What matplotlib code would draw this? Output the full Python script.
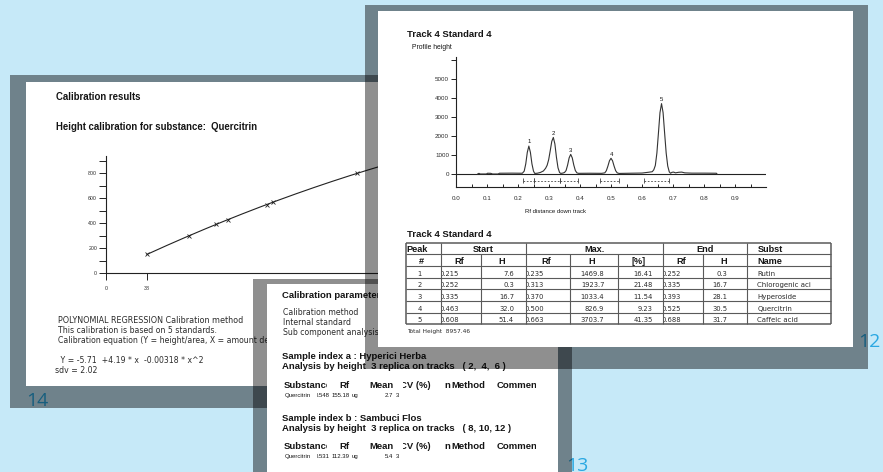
import numpy as np
import matplotlib
matplotlib.use("Agg")
import matplotlib.pyplot as plt
from matplotlib.patches import Rectangle
from matplotlib.transforms import Bbox
from matplotlib.ticker import FixedLocator

# ---------------- data ----------------
# calibration of Quercitrin (polynomial regression)
calib_coef = [-5.71, 4.19, -0.00318]
calib_sdv = 2.02
calib_standards = 5
calib_amounts = [38, 77, 102, 113, 149, 155, 233]
calib_heights = [150, 298, 389, 426, 548, 567, 798]
calib_yticks = [0, 200, 400, 600, 800]
calib_yminor = [100, 300, 500, 700, 900]
calib_xticks = [0, 38]

# densitogram of track 4, standard 4
trace_rf = [0.070, 0.074, 0.078, 0.098, 0.102, 0.112, 0.118, 0.136, 0.140, 0.180, 0.214,
            0.220, 0.225, 0.230, 0.235, 0.240, 0.245, 0.250, 0.254,
            0.262, 0.272, 0.282, 0.289, 0.294, 0.299, 0.304, 0.309, 0.314, 0.319, 0.324, 0.329, 0.334, 0.338,
            0.345, 0.350, 0.355, 0.360, 0.365, 0.370, 0.375, 0.380, 0.385, 0.390, 0.395,
            0.430, 0.470, 0.480, 0.485, 0.490, 0.495, 0.500, 0.505, 0.510, 0.515, 0.520, 0.526,
            0.560, 0.600, 0.620, 0.633, 0.638, 0.643, 0.648, 0.653, 0.658, 0.663, 0.668, 0.673, 0.678, 0.683, 0.688, 0.692,
            0.697, 0.702, 0.708, 0.718, 0.728, 0.738, 0.760, 0.800, 0.840, 0.842]
trace_h = [0, 35, 0, 0, 40, 35, 0, 0, 40, 45, 40,
           150, 530, 1140, 1470, 1140, 530, 150, 30,
           40, 80, 160, 300, 460, 760, 1230, 1720, 1924, 1580, 880, 330, 80, 30,
           50, 80, 180, 470, 850, 1033, 850, 470, 180, 60, 35,
           40, 35, 60, 175, 414, 695, 827, 695, 414, 175, 60, 30,
           40, 50, 90, 120, 220, 450, 1100, 2150, 3230, 3704, 3230, 2150, 1100, 420, 110, 40,
           90, 100, 60, 90, 100, 60, 45, 45, 40, 0]
chrom_yticks = [0, 1000, 2000, 3000, 4000, 5000, 6000]
chrom_ylabels = ["0", "1000", "2000", "3000", "4000", "5000", ""]
chrom_xticks = [0.0, 0.1, 0.2, 0.3, 0.4, 0.5, 0.6, 0.7, 0.8, 0.9]

# peak table
peak_no = [1, 2, 3, 4, 5]
start_rf = [0.215, 0.252, 0.335, 0.463, 0.608]
start_h = [7.6, 0.3, 16.7, 32.0, 51.4]
max_rf = [0.235, 0.313, 0.370, 0.500, 0.663]
max_h = [1469.8, 1923.7, 1033.4, 826.9, 3703.7]
max_pct = [16.41, 21.48, 11.54, 9.23, 41.35]
end_rf = [0.252, 0.335, 0.393, 0.525, 0.688]
end_h = [0.3, 16.7, 28.1, 30.5, 31.7]
subst_name = ["Rutin", "Chlorogenic aci", "Hyperoside", "Quercitrin", "Caffeic acid"]
total_height = 8957.46

# sample results
sample_index = ["a", "b"]
sample_name = ["Hyperici Herba", "Sambuci Flos"]
sample_tracks = [(2, 4, 6), (8, 10, 12)]
sample_subst = ["Quercitrin", "Quercitrin"]
sample_rf = [0.548, 0.531]
sample_mean = [155.18, 112.39]
sample_cv = [2.7, 5.4]
sample_n = [3, 3]

page_numbers = ["14", "12", "13"]

# ---------------- figure ----------------
W, H = 883, 472
fig = plt.figure(figsize=(W / 100, H / 100), dpi=100)
BG = "#c6e9f8"
fig.patch.set_facecolor(BG)
INK = "#151515"
SOFT = "#2b2b2b"
HEAD = "Liberation Sans"
BODY = "DejaVu Sans"
PAGE_NO = "#2aa8e2"


def layer(z):
    ax = fig.add_axes([0, 0, 1, 1], zorder=z)
    ax.set_xlim(0, W)
    ax.set_ylim(H, 0)
    ax.set_axis_off()
    ax.patch.set_alpha(0)
    return ax


def frac(x0, y0, x1, y1):
    return [x0 / W, 1 - y1 / H, (x1 - x0) / W, (y1 - y0) / H]


def sheet(ax, outer, inner):
    ox0, oy0, ox1, oy1 = outer
    ix0, iy0, ix1, iy1 = inner
    ax.add_patch(Rectangle((ix0, iy0), ix1 - ix0, iy1 - iy0, fc="white", ec="none", lw=0))
    for x0, y0, x1, y1 in [(ox0, oy0, ox1, iy0), (ox0, iy1, ox1, oy1),
                           (ox0, iy0, ix0, iy1), (ix1, iy0, ox1, iy1)]:
        ax.add_patch(Rectangle((x0, y0), x1 - x0, y1 - y0, fc="black", alpha=0.44,
                               ec="none", lw=0))


def put(ax, x, y, s, size, bold=False, family=BODY, ha="left", clip=None, color=INK):
    t = ax.text(x, y, s, fontsize=size, fontweight="bold" if bold else "normal",
                family=family, ha=ha, va="baseline", color=color)
    if clip is not None:
        x0, x1 = clip
        t.set_clip_box(Bbox.from_extents(x0, 0, x1, H))
        t.set_clip_on(True)
    return t


# background with page numbers
base = layer(0)
put(base, 26, 406, page_numbers[0], 14, family="Open Sans", color=PAGE_NO)
put(base, 858, 347, page_numbers[1], 14, family="Open Sans", color=PAGE_NO)
put(base, 566, 471, page_numbers[2], 14, family="Open Sans", color=PAGE_NO)

# ---------- sheet 14: calibration results ----------
s14 = layer(1)
sheet(s14, (10, 75, 500, 408), (26, 82, 486, 386))
put(s14, 56, 100, "Calibration results", 6.9, bold=True, family=HEAD)
put(s14, 56, 130, "Height calibration for substance:  Quercitrin", 6.9, bold=True, family=HEAD)
put(s14, 58, 322.7, "POLYNOMIAL REGRESSION Calibration method", 5.8, color=SOFT)
put(s14, 58, 332.7, f"This calibration is based on {calib_standards} standards.", 5.6, color=SOFT)
put(s14, 58, 342.7, "Calibration equation (Y = height/area, X = amount detected)", 5.6, color=SOFT)
c0, c1, c2 = calib_coef
put(s14, 58, 363.3, f" Y = {c0:.2f}  +{c1:.2f} * x  {c2:.5f} * x^2", 5.6, color=SOFT)
put(s14, 55, 373.3, f"sdv = {calib_sdv:.2f}", 5.6, color=SOFT)

cal = fig.add_axes(frac(106, 156, 480, 273), zorder=2)
cal.patch.set_alpha(0)
cal.set_xlim(0, 374 * 38 / 41)
cal.set_ylim(0, 936)
for sp in ("top", "right"):
    cal.spines[sp].set_visible(False)
for sp in ("left", "bottom"):
    cal.spines[sp].set_linewidth(0.8)
    cal.spines[sp].set_color("#222222")
xs = np.linspace(calib_amounts[0], 340, 200)
cal.plot(xs, c0 + c1 * xs + c2 * xs ** 2, color="#222222", lw=0.8)
cal.plot(calib_amounts, calib_heights, ls="none", marker="x", ms=3.5, mew=0.6, color="#222222")
cal.yaxis.set_major_locator(FixedLocator(calib_yticks))
cal.yaxis.set_minor_locator(FixedLocator(calib_yminor))
cal.xaxis.set_major_locator(FixedLocator(calib_xticks))
cal.tick_params(axis="both", which="both", length=5, width=0.7, color="#222222",
                labelsize=3.8, labelcolor=SOFT)
cal.tick_params(axis="y", pad=1.4)
cal.tick_params(axis="x", pad=4)
for lab in cal.get_xticklabels() + cal.get_yticklabels():
    lab.set_family(HEAD)

# ---------- sheet 13: calibration parameters / sample results ----------
s13 = layer(3)
sheet(s13, (253, 279, 572, 480), (267, 284, 558, 480))
put(s13, 281.7, 298.3, "Calibration parameters", 6.8, bold=True, family=HEAD)
put(s13, 283.3, 315, "Calibration method", 5.6, color=SOFT)
put(s13, 283.3, 325, "Internal standard", 5.6, color=SOFT)
put(s13, 283.3, 335, "Sub component analysis", 5.6, color=SOFT)
for i in range(2):
    y0 = 359 + i * 61.7
    t0, t1, t2 = sample_tracks[i]
    trk = f"( {t0},  {t1},  {t2} )" if i == 0 else f"( {t0}, {t1}, {t2} )"
    put(s13, 281.7, y0, f"Sample index {sample_index[i]} : {sample_name[i]}", 6.8, bold=True, family=HEAD)
    put(s13, 281.7, y0 + 10, f"Analysis by height  {sample_n[i]} replica on tracks   {trk}",
        6.8, bold=True, family=HEAD)
    yh = y0 + 28.7
    put(s13, 283.3, yh, "Substance", 6.8, bold=True, family=HEAD, clip=(280, 327))
    put(s13, 339, yh, "Rf", 6.8, bold=True, family=HEAD)
    put(s13, 369, yh, "Mean", 6.8, bold=True, family=HEAD)
    put(s13, 400.5, yh, "CV (%)", 6.8, bold=True, family=HEAD, clip=(403, 440))
    put(s13, 444, yh, "n", 6.8, bold=True, family=HEAD)
    put(s13, 451.5, yh, "Method", 6.8, bold=True, family=HEAD)
    put(s13, 496.7, yh, "Comment", 6.8, bold=True, family=HEAD, clip=(490, 536))
    yd = y0 + 37.7
    put(s13, 285, yd, sample_subst[i], 4.3, family=HEAD)
    put(s13, 314.5, yd, f"{sample_rf[i]:.3f}", 4.3, family=HEAD, clip=(316.5, 331))
    put(s13, 331.5, yd, f"{sample_mean[i]:.2f}", 4.3, family=HEAD)
    put(s13, 351.5, yd, "ug", 4.3, family=HEAD)
    put(s13, 392.7, yd, f"{sample_cv[i]:.1f}", 4.3, family=HEAD, ha="right")
    put(s13, 395.7, yd, f"{sample_n[i]}", 4.3, family=HEAD)

# ---------- sheet 12: densitogram and peak table ----------
s12 = layer(4)
sheet(s12, (365, 5, 868, 369), (378, 11, 853, 347))
put(s12, 406.7, 36.7, "Track 4 Standard 4", 6.8, bold=True, family=HEAD)
put(s12, 411.7, 49, "Profile height", 4.9, family=HEAD)
put(s12, 525, 213, "Rf distance down track", 4.3, family=HEAD)
put(s12, 406.7, 237.3, "Track 4 Standard 4", 6.8, bold=True, family=HEAD)

# table grid
cols = [405.7, 441, 481, 525.7, 570, 618.3, 662.7, 703.3, 747.3, 831]
rtop, rh = 242.7, 11.66
rows = [rtop + k * rh for k in range(8)]
LC = "#5a5a5a"
for k, y in enumerate(rows):
    s12.plot([cols[0], cols[-1]], [y, y], color=LC, lw=1.1 if k in (0, 7) else 0.8,
             solid_capstyle="butt")
for j, x in enumerate(cols):
    y_from = rows[0] if j in (0, 1, 3, 6, 8, 9) else rows[1]
    s12.plot([x, x], [y_from, rows[-1]], color=LC, lw=1.1 if j in (0, 9) else 0.8,
             solid_capstyle="butt")


def mid(a, b):
    return (cols[a] + cols[b]) / 2


TH = 6.6
b0 = rows[1] - 2.0
put(s12, cols[0] + 1, b0, "Peak", TH, bold=True, family=HEAD)
put(s12, mid(1, 3), b0, "Start", TH, bold=True, family=HEAD, ha="center")
put(s12, mid(3, 6), b0, "Max.", TH, bold=True, family=HEAD, ha="center")
put(s12, mid(6, 8), b0, "End", TH, bold=True, family=HEAD, ha="center")
put(s12, cols[8] + 10, b0, "Subst", TH, bold=True, family=HEAD)
b1 = rows[2] - 2.0
for j, s in enumerate(["#", "Rf", "H", "Rf", "H", "[%]", "Rf", "H"]):
    put(s12, mid(j, j + 1) - 2, b1, s, TH, bold=True, family=HEAD, ha="center")
put(s12, cols[8] + 10, b1, "Name", TH, bold=True, family=HEAD)

TD = 4.9
for i in range(5):
    yb = rows[3 + i] - 2.0
    put(s12, mid(0, 1) - 4, yb, f"{peak_no[i]}", TD, ha="center", color=SOFT)
    put(s12, cols[1] - 1.5, yb, f"{start_rf[i]:.3f}", TD, clip=(cols[1] + 1, cols[2]), color=SOFT)
    put(s12, cols[2] + 33, yb, f"{start_h[i]:.1f}", TD, ha="right", color=SOFT)
    put(s12, cols[3] - 1.5, yb, f"{max_rf[i]:.3f}", TD, clip=(cols[3] + 1, cols[4]), color=SOFT)
    put(s12, cols[5] - 14, yb, f"{max_h[i]:.1f}", TD, ha="right", color=SOFT)
    put(s12, cols[6] - 10, yb, f"{max_pct[i]:.2f}", TD, ha="right", color=SOFT)
    put(s12, cols[6] - 1.5, yb, f"{end_rf[i]:.3f}", TD, clip=(cols[6] + 1, cols[7]), color=SOFT)
    put(s12, cols[8] - 20, yb, f"{end_h[i]:.1f}", TD, ha="right", color=SOFT)
    put(s12, cols[8] + 10, yb, subst_name[i], 5.0, color=SOFT)
put(s12, cols[0] + 1, rows[-1] + 9, f"Total Height  {total_height:.2f}", 4.2, color=SOFT)

# densitogram axes
ch = fig.add_axes(frac(456, 57, 766, 187.3), zorder=5)
ch.patch.set_alpha(0)
ch.set_xlim(0, 1.0)
ch.set_ylim(-700, 6158)
for sp in ("top", "right"):
    ch.spines[sp].set_visible(False)
for sp in ("left", "bottom"):
    ch.spines[sp].set_linewidth(0.8)
    ch.spines[sp].set_color("#222222")
ch.axhline(0, color="#222222", lw=0.8)
ch.plot(trace_rf, trace_h, color="#333333", lw=0.8)
for i in range(5):
    ch.plot([start_rf[i], end_rf[i]], [-368, -368], color="#444444", lw=0.6, ls=(0, (2, 2)))
    ch.vlines([start_rf[i], end_rf[i]], -460, -230, color="#444444", lw=0.6)
    ch.text(max_rf[i], max_h[i] + 90, f"{peak_no[i]}", ha="center", va="bottom",
            fontsize=4.3, family=HEAD, color=INK)
ch.yaxis.set_major_locator(FixedLocator(chrom_yticks))
ch.set_yticklabels(chrom_ylabels)
ch.xaxis.set_major_locator(FixedLocator(chrom_xticks))
ch.set_xticklabels([f"{v:.1f}" for v in chrom_xticks])
ch.xaxis.set_minor_locator(FixedLocator([v + 0.05 for v in chrom_xticks]))
ch.tick_params(axis="y", length=3.6, width=0.7, pad=1.4, labelsize=4.5, color="#222222")
ch.tick_params(axis="x", which="both", direction="in", length=2.2, width=0.7, pad=6.2,
               labelsize=4.5, color="#222222")
for lab in ch.get_xticklabels() + ch.get_yticklabels():
    lab.set_family(HEAD)
    lab.set_color(SOFT)

fig.savefig("out.png", dpi=100, facecolor=BG)
